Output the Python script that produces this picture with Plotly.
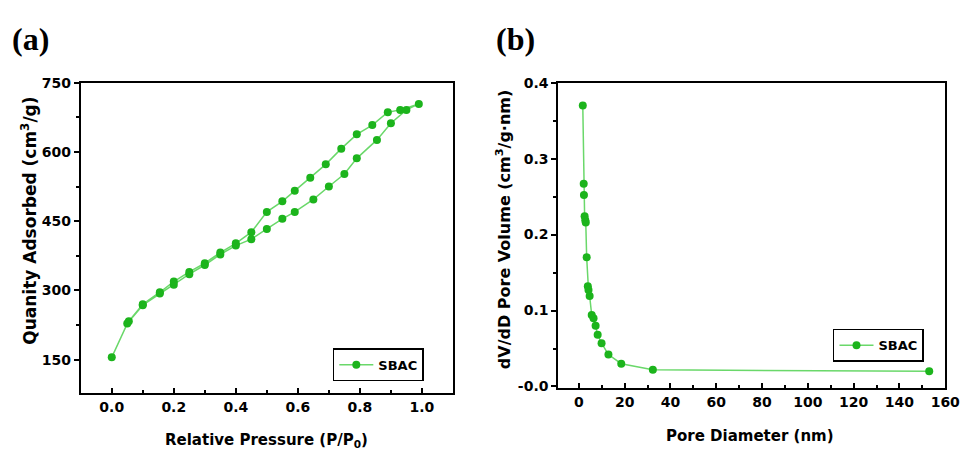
import plotly.graph_objects as go

# ---- Panel (a): N2 adsorption-desorption isotherm ----
ads_p = [0.0, 0.05, 0.10, 0.155, 0.20, 0.25, 0.30, 0.35, 0.40, 0.45, 0.50, 0.55, 0.59,
         0.65, 0.70, 0.75, 0.79, 0.855, 0.90, 0.95, 0.99]
ads_q = [155, 228, 268, 293, 312, 335, 355, 378, 397, 411, 433, 455, 470,
         497, 525, 552, 586, 626, 662, 691, 704]
des_p = [0.93, 0.89, 0.84, 0.79, 0.74, 0.69, 0.64, 0.59, 0.55, 0.50, 0.45, 0.40,
         0.35, 0.30, 0.25, 0.20, 0.155, 0.10, 0.055]
des_q = [691, 686, 658, 638, 607, 573, 544, 516, 493, 470, 426, 402,
         382, 359, 340, 319, 296, 270, 233]

# ---- Panel (b): pore size distribution ----
pore_d = [1.7, 2.1, 2.2, 2.5, 2.8, 3.0, 3.4, 3.9, 4.2, 4.7, 5.6, 6.4, 7.3, 8.2, 9.9,
          12.9, 18.5, 32.3, 153.0]
pore_v = [0.370, 0.267, 0.252, 0.224, 0.219, 0.216, 0.170, 0.132, 0.127, 0.119, 0.094,
          0.090, 0.080, 0.068, 0.057, 0.042, 0.030, 0.022, 0.020]

left_xticks = [0.0, 0.2, 0.4, 0.6, 0.8, 1.0]
left_yticks = [150, 300, 450, 600, 750]
right_xticks = [0, 20, 40, 60, 80, 100, 120, 140, 160]
right_yticks = [0.0, 0.1, 0.2, 0.3, 0.4]
right_ytext = ["-0.0", "0.1", "0.2", "0.3", "0.4"]

series_name = "SBAC"
mk_color = "#1cb41c"
ln_color = "#6ad86a"
FONT = "DejaVu Sans"

fig = go.Figure()
fig.add_trace(go.Scatter(
    x=ads_p + des_p, y=ads_q + des_q, mode="lines+markers", name=series_name,
    line=dict(color=ln_color, width=1.5),
    marker=dict(color=mk_color, size=8, line=dict(width=0)),
    xaxis="x", yaxis="y", legend="legend", showlegend=True))
fig.add_trace(go.Scatter(
    x=pore_d, y=pore_v, mode="lines+markers", name=series_name,
    line=dict(color=ln_color, width=1.5),
    marker=dict(color=mk_color, size=8, line=dict(width=0)),
    xaxis="x2", yaxis="y2", legend="legend2", showlegend=True))

W, H = 976, 458
tickfont = dict(family=FONT, size=14, color="black", weight="bold")
common = dict(showline=True, mirror=True, linecolor="black", linewidth=2,
              showgrid=False, zeroline=False, tickfont=tickfont,
              tickcolor="black", ticklen=5, tickwidth=1.5)

legend_common = dict(xanchor="left", yanchor="top", bordercolor="black", borderwidth=1.5,
                     bgcolor="white",
                     font=dict(family=FONT, size=13, color="black", weight="bold"),
                     itemwidth=34, visible=True)

fig.update_layout(
    width=W, height=H, margin=dict(l=0, r=0, t=0, b=0),
    paper_bgcolor="white", plot_bgcolor="white",
    font=dict(family=FONT, color="black"),
    showlegend=True,
    xaxis=dict(domain=[82 / W, 460 / W], range=[-0.1, 1.1], tickvals=left_xticks,
               tickformat=".1f", ticks="inside", anchor="y",
               minor=dict(dtick=0.1, tick0=0, ticks="inside", ticklen=3, tickcolor="black"),
               **common),
    yaxis=dict(domain=[1 - 397 / H, 1 - 77 / H], range=[78, 750], tickvals=left_yticks,
               ticks="outside", anchor="x",
               minor=dict(dtick=75, tick0=0, ticks="outside", ticklen=3, tickcolor="black"),
               **common),
    xaxis2=dict(domain=[567 / W, 960 / W], range=[-9, 160], tickvals=right_xticks,
                ticks="inside", anchor="y2",
                minor=dict(dtick=10, tick0=0, ticks="inside", ticklen=3, tickcolor="black"),
                **common),
    yaxis2=dict(domain=[1 - 392 / H, 1 - 77 / H], range=[-0.002, 0.4], tickvals=right_yticks,
                ticktext=right_ytext, ticks="outside", anchor="x2",
                minor=dict(dtick=0.05, tick0=0, ticks="outside", ticklen=3, tickcolor="black"),
                **common),
    legend=dict(x=338 / W, y=1 - 351 / H, **legend_common),
    legend2=dict(x=846 / W, y=1 - 331 / H, **legend_common),
)

title_font = dict(family=FONT, size=15, color="black", weight="bold")
ann = [
    dict(text="(a)", x=10 / W, y=1 - 32 / H, xanchor="left", yanchor="middle",
         font=dict(family="Liberation Serif", size=32, color="black", weight="bold")),
    dict(text="(b)", x=502 / W, y=1 - 32 / H, xanchor="left", yanchor="middle",
         font=dict(family="Liberation Serif", size=32, color="black", weight="bold")),
    dict(text="Relative Pressure (P/P<sub>0</sub>)", x=271 / W, y=1 - 446 / H,
         xanchor="center", yanchor="middle", font=title_font),
    dict(text="Pore Diameter (nm)", x=762 / W, y=1 - 441 / H,
         xanchor="center", yanchor="middle", font=title_font),
    dict(text="Quanity Adsorbed (cm<sup>3</sup>/g)", x=30 / W, y=1 - 220 / H, textangle=-90,
         xanchor="center", yanchor="middle", font=dict(family=FONT, size=17, color="black", weight="bold")),
    dict(text="dV/dD Pore Volume (cm<sup>3</sup>/g·nm)", x=511 / W, y=1 - 228 / H, textangle=-90,
         xanchor="center", yanchor="middle", font=dict(family=FONT, size=16, color="black", weight="bold")),
]
for a in ann:
    a.update(xref="paper", yref="paper", showarrow=False)
fig.update_layout(annotations=ann)

fig.write_html("out.html")
